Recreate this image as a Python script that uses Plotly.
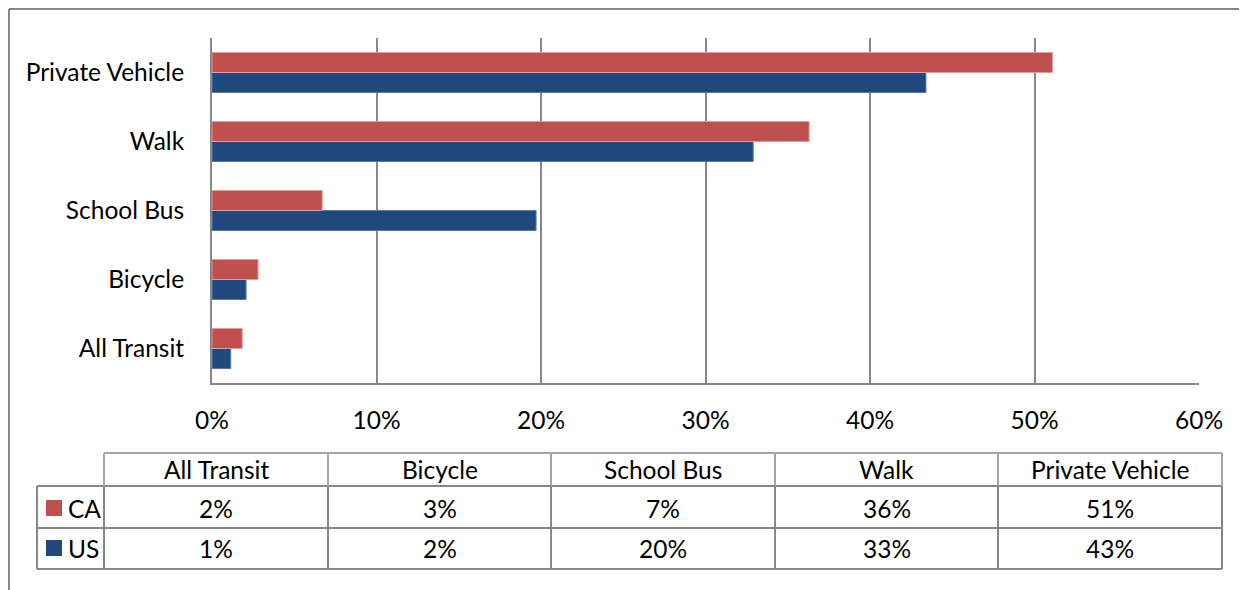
import plotly.graph_objects as go

# ---- data ----
categories = ["All Transit", "Bicycle", "School Bus", "Walk", "Private Vehicle"]
ca_values = [1.84, 2.8, 6.7, 36.3, 51.1]
us_values = [1.14, 2.07, 19.7, 32.9, 43.4]
series_names = ["CA", "US"]
x_ticks = [0, 10, 20, 30, 40, 50, 60]
x_tick_labels = ["0%", "10%", "20%", "30%", "40%", "50%", "60%"]

CA_COLOR = "#C0504D"
US_COLOR = "#1F497D"
GRID = "#878787"
FONT = "Lato"
FSIZE = 24.5

# page geometry (browser body has an 8px default margin)
PAGE_W, PAGE_H = 1247, 590
OFF = 8
W, H = PAGE_W - OFF, PAGE_H - OFF
L, R, T, B = 212, 1199, 38, 383   # plot area in page pixels

def px(x):
    return (x - L) / (R - L)

def py(y):
    return (B - y) / (B - T)

fig = go.Figure()
fig.add_trace(go.Bar(
    y=categories, x=us_values, name="US", orientation="h",
    marker=dict(color=US_COLOR, line=dict(color="#5a7aa8", width=1)),
))
fig.add_trace(go.Bar(
    y=categories, x=ca_values, name="CA", orientation="h",
    marker=dict(color=CA_COLOR, line=dict(color="#e0a0a0", width=1)),
))

shapes = []
line_style = dict(color=GRID, width=2)
light_style = dict(color="#a6a6a6", width=2)

def hline(x0, x1, y, style=line_style):
    shapes.append(dict(type="line", xref="paper", yref="paper",
                       x0=px(x0), x1=px(x1), y0=py(y), y1=py(y), line=style, layer="above"))

def vline(x, y0, y1, style=line_style):
    shapes.append(dict(type="line", xref="paper", yref="paper",
                       x0=px(x), x1=px(x), y0=py(y0), y1=py(y1), line=style, layer="above"))

# outer chart border (top and left)
hline(9, 1260, 9)
vline(9, 9, 600)

# data table grid
col_edges = [104, 328, 551, 775, 998, 1222]
row_top, row_hdr, row_mid, row_bot = 453, 486, 528, 569
hline(104, 1222, row_top, light_style)
hline(37, 1222, row_hdr)
hline(37, 1222, row_mid)
hline(37, 1222, row_bot)
for cx in col_edges:
    vline(cx, row_top, row_hdr, light_style)
    vline(cx, row_hdr, row_bot)
vline(37, row_hdr, row_bot)

annotations = []
text_font = dict(family=FONT, size=FSIZE, color="#000000")
row_centers = {"hdr": 470, "CA": 508, "US": 548}
series_values = {"CA": ca_values, "US": us_values}
series_colors = {"CA": CA_COLOR, "US": US_COLOR}

for i, cat in enumerate(categories):
    cx = (col_edges[i] + col_edges[i + 1]) / 2
    annotations.append(dict(xref="paper", yref="paper", x=px(cx), y=py(row_centers["hdr"]),
                            text=cat, showarrow=False, font=text_font,
                            xanchor="center", yanchor="middle"))
    for s in series_names:
        annotations.append(dict(xref="paper", yref="paper", x=px(cx), y=py(row_centers[s]),
                                text=f"{round(series_values[s][i])}%", showarrow=False,
                                font=text_font, xanchor="center", yanchor="middle"))

for s in series_names:
    yc = row_centers[s]
    shapes.append(dict(type="rect", xref="paper", yref="paper",
                       x0=px(46), x1=px(62), y0=py(yc - 8), y1=py(yc + 8),
                       fillcolor=series_colors[s], line=dict(width=0), layer="above"))
    annotations.append(dict(xref="paper", yref="paper", x=px(66), y=py(yc),
                            text=s, showarrow=False, font=text_font,
                            xanchor="left", yanchor="middle"))

fig.update_layout(
    width=W, height=H,
    margin=dict(l=L - OFF, r=PAGE_W - R, t=T - OFF, b=PAGE_H - B, pad=0),
    paper_bgcolor="white", plot_bgcolor="white",
    barmode="group", bargap=0.42, bargroupgap=0,
    showlegend=False,
    font=dict(family=FONT, size=FSIZE, color="#000000"),
    xaxis=dict(range=[0, 60], tickvals=x_ticks, ticktext=x_tick_labels,
               showgrid=True, gridcolor=GRID, gridwidth=2,
               showline=True, linecolor=GRID, linewidth=2,
               zeroline=False, ticks="", ticklabelstandoff=15,
               tickfont=dict(family=FONT, size=FSIZE, color="#000000"), fixedrange=True),
    yaxis=dict(categoryorder="array", categoryarray=categories,
               showgrid=False, showline=True, linecolor=GRID, linewidth=2,
               ticks="", ticklabelstandoff=21,
               tickfont=dict(family=FONT, size=FSIZE, color="#000000"), fixedrange=True),
    shapes=shapes, annotations=annotations,
)

fig.write_html("out.html")
